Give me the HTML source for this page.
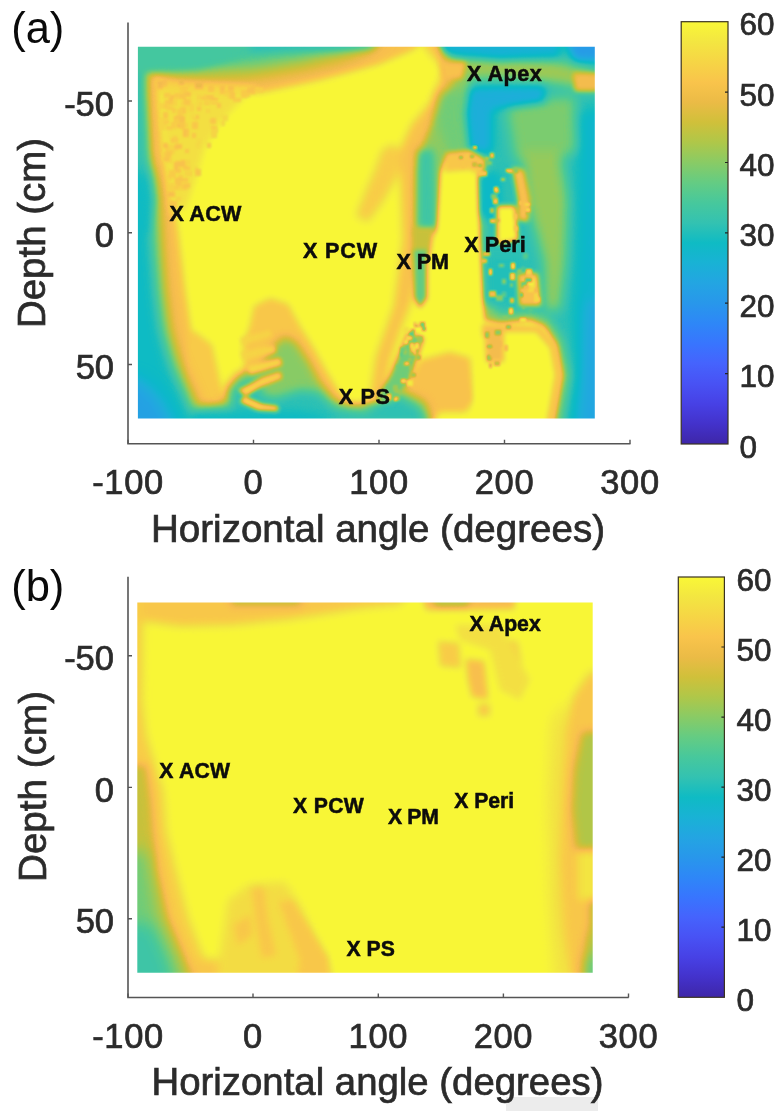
<!DOCTYPE html>
<html><head><meta charset="utf-8"><title>Figure</title>
<style>html,body{margin:0;padding:0;background:#fff}svg{display:block}text{font-family:"Liberation Sans",sans-serif}.t{stroke:#2b2b2b;stroke-width:.7px}</style>
</head><body>
<svg width="784" height="1111" viewBox="0 0 784 1111">
<defs>
<linearGradient id="cb" x1="0" y1="0" x2="0" y2="1"><stop offset="0.0000" stop-color="rgb(249,247,55)"/><stop offset="0" stop-color="rgb(249,247,55)"/><stop offset="0.0476" stop-color="rgb(243,230,65)"/><stop offset="0.0952" stop-color="rgb(246,213,69)"/><stop offset="0.1429" stop-color="rgb(249,196,75)"/><stop offset="0.1905" stop-color="rgb(235,187,70)"/><stop offset="0.2381" stop-color="rgb(208,192,58)"/><stop offset="0.2857" stop-color="rgb(175,199,73)"/><stop offset="0.3333" stop-color="rgb(137,203,101)"/><stop offset="0.3810" stop-color="rgb(100,204,131)"/><stop offset="0.4286" stop-color="rgb(71,200,156)"/><stop offset="0.4762" stop-color="rgb(51,194,177)"/><stop offset="0.5238" stop-color="rgb(15,187,196)"/><stop offset="0.5714" stop-color="rgb(25,178,213)"/><stop offset="0.6190" stop-color="rgb(35,165,226)"/><stop offset="0.6667" stop-color="rgb(40,151,235)"/><stop offset="0.7143" stop-color="rgb(46,135,247)"/><stop offset="0.7619" stop-color="rgb(56,117,254)"/><stop offset="0.8095" stop-color="rgb(69,99,253)"/><stop offset="0.8571" stop-color="rgb(72,82,244)"/><stop offset="0.9048" stop-color="rgb(71,65,229)"/><stop offset="0.9524" stop-color="rgb(67,50,203)"/><stop offset="1.0000" stop-color="rgb(62,38,168)"/></linearGradient>
<filter id="cmap" color-interpolation-filters="sRGB" filterUnits="userSpaceOnUse" x="0" y="0" width="784" height="1111">
<feComponentTransfer>
<feFuncR type="table" tableValues="0.2422 0.2504 0.2578 0.2647 0.2706 0.2751 0.2783 0.2803 0.2813 0.2810 0.2795 0.2760 0.2699 0.2602 0.2440 0.2206 0.1963 0.1834 0.1786 0.1764 0.1693 0.1562 0.1507 0.1460 0.1369 0.1282 0.1177 0.0980 0.0667 0.0485 0.0581 0.0984 0.1531 0.1986 0.2309 0.2544 0.2772 0.3068 0.3467 0.3914 0.4359 0.4844 0.5364 0.5870 0.6364 0.6847 0.7309 0.7748 0.8160 0.8541 0.8896 0.9213 0.9509 0.9730 0.9761 0.9763 0.9729 0.9654 0.9575 0.9535 0.9542 0.9588 0.9662 0.9750"/>
<feFuncG type="table" tableValues="0.1504 0.1650 0.1818 0.1978 0.2147 0.2342 0.2559 0.2782 0.3006 0.3228 0.3447 0.3667 0.3892 0.4123 0.4358 0.4603 0.4847 0.5074 0.5289 0.5499 0.5705 0.5909 0.6104 0.6295 0.6484 0.6665 0.6832 0.6984 0.7119 0.7239 0.7346 0.7442 0.7527 0.7606 0.7685 0.7765 0.7841 0.7908 0.7956 0.7987 0.8006 0.8001 0.7974 0.7929 0.7870 0.7797 0.7713 0.7624 0.7536 0.7454 0.7387 0.7350 0.7359 0.7486 0.7691 0.7905 0.8127 0.8355 0.8585 0.8814 0.9037 0.9254 0.9467 0.9680"/>
<feFuncB type="table" tableValues="0.6603 0.7076 0.7511 0.7952 0.8364 0.8710 0.8991 0.9221 0.9414 0.9579 0.9717 0.9829 0.9906 0.9952 0.9988 0.9973 0.9892 0.9798 0.9682 0.9520 0.9357 0.9213 0.9070 0.8959 0.8864 0.8739 0.8573 0.8371 0.8146 0.7912 0.7671 0.7426 0.7178 0.6931 0.6677 0.6413 0.6128 0.5819 0.5489 0.5138 0.4753 0.4359 0.3980 0.3595 0.3212 0.2871 0.2590 0.2357 0.2258 0.2312 0.2470 0.2758 0.3019 0.3047 0.2944 0.2841 0.2764 0.2707 0.2647 0.2602 0.2550 0.2459 0.2330 0.2150"/>
</feComponentTransfer>
</filter>
<filter id="b1" color-interpolation-filters="sRGB" filterUnits="userSpaceOnUse" x="0" y="0" width="784" height="1111"><feGaussianBlur stdDeviation="1"/></filter>
<filter id="b2" color-interpolation-filters="sRGB" filterUnits="userSpaceOnUse" x="0" y="0" width="784" height="1111"><feGaussianBlur stdDeviation="2"/></filter>
<filter id="b2_5" color-interpolation-filters="sRGB" filterUnits="userSpaceOnUse" x="0" y="0" width="784" height="1111"><feGaussianBlur stdDeviation="2.5"/></filter>
<filter id="b3" color-interpolation-filters="sRGB" filterUnits="userSpaceOnUse" x="0" y="0" width="784" height="1111"><feGaussianBlur stdDeviation="3"/></filter>
<filter id="b4" color-interpolation-filters="sRGB" filterUnits="userSpaceOnUse" x="0" y="0" width="784" height="1111"><feGaussianBlur stdDeviation="4"/></filter>
<filter id="b5" color-interpolation-filters="sRGB" filterUnits="userSpaceOnUse" x="0" y="0" width="784" height="1111"><feGaussianBlur stdDeviation="5"/></filter>
<filter id="b6" color-interpolation-filters="sRGB" filterUnits="userSpaceOnUse" x="0" y="0" width="784" height="1111"><feGaussianBlur stdDeviation="6"/></filter>
<filter id="b7" color-interpolation-filters="sRGB" filterUnits="userSpaceOnUse" x="0" y="0" width="784" height="1111"><feGaussianBlur stdDeviation="7"/></filter>
<filter id="b8" color-interpolation-filters="sRGB" filterUnits="userSpaceOnUse" x="0" y="0" width="784" height="1111"><feGaussianBlur stdDeviation="8"/></filter>
<filter id="b11" color-interpolation-filters="sRGB" filterUnits="userSpaceOnUse" x="0" y="0" width="784" height="1111"><feGaussianBlur stdDeviation="11"/></filter>
</defs>
<rect width="784" height="1111" fill="#fff"/>
<rect x="506" y="1097" width="92" height="14" fill="#ececec"/>
<clipPath id="clipa"><rect x="137.9" y="46.7" width="456.9" height="371.90000000000003"/></clipPath>
<g clip-path="url(#clipa)"><g filter="url(#cmap)">
<rect x="97.9" y="6.700000000000003" width="536.9" height="451.90000000000003" fill="rgb(255,255,255)"/>
<g filter="url(#b3)">
<polygon points="100,40 160,40 160,100 164,150 178,230 185,290 191,330 205,370 226,400 236,440 100,440" fill="rgb(217,217,217)"/>
<polygon points="100,20 440,20 425,40 413,50 380,64 320,80 260,93 200,92 100,90" fill="rgb(217,217,217)"/>
<polygon points="188,328 198,334 212,345 218,372 223,398 230,410 232,425 190,425 185,380" fill="rgb(223,223,223)"/>
<polygon points="254,306 270,298 288,304 300,326 314,348 326,370 338,390 349,404 349,425 235,425 236,395 245,370 243,345 250,325" fill="rgb(221,221,221)"/>
<polygon points="330,398 360,404 395,398 410,380 420,360 450,352 470,358 474,400 466,412 440,412 430,425 330,425" fill="rgb(217,217,217)"/>
</g>
<g filter="url(#b3)">
<polygon points="154,76 258,86 236,106 218,126 204,150 196,178 186,208 170,214 160,100" fill="rgb(238,238,238)"/>
</g>
<g filter="url(#b1)">
<polygon points="168,192 175,192 175,197 168,197" fill="rgb(217,217,217)"/>
<polygon points="182,185 188,185 188,190 182,190" fill="rgb(230,230,230)"/>
<polygon points="157,81 163,81 163,89 157,89" fill="rgb(217,217,217)"/>
<polygon points="174,116 182,116 182,122 174,122" fill="rgb(217,217,217)"/>
<polygon points="179,185 185,185 185,190 179,190" fill="rgb(230,230,230)"/>
<polygon points="165,100 173,100 173,105 165,105" fill="rgb(221,221,221)"/>
<polygon points="172,108 176,108 176,113 172,113" fill="rgb(225,225,225)"/>
<polygon points="207,95 214,95 214,100 207,100" fill="rgb(221,221,221)"/>
<polygon points="164,152 171,152 171,160 164,160" fill="rgb(221,221,221)"/>
<polygon points="163,80 167,80 167,87 163,87" fill="rgb(225,225,225)"/>
<polygon points="182,185 187,185 187,190 182,190" fill="rgb(225,225,225)"/>
<polygon points="171,149 175,149 175,154 171,154" fill="rgb(230,230,230)"/>
<polygon points="174,93 181,93 181,99 174,99" fill="rgb(225,225,225)"/>
<polygon points="195,83 203,83 203,89 195,89" fill="rgb(217,217,217)"/>
<polygon points="220,86 225,86 225,94 220,94" fill="rgb(221,221,221)"/>
<polygon points="175,168 181,168 181,173 175,173" fill="rgb(221,221,221)"/>
<polygon points="183,99 191,99 191,106 183,106" fill="rgb(225,225,225)"/>
<polygon points="178,175 183,175 183,180 178,180" fill="rgb(225,225,225)"/>
<polygon points="182,123 188,123 188,128 182,128" fill="rgb(230,230,230)"/>
<polygon points="168,152 172,152 172,156 168,156" fill="rgb(221,221,221)"/>
<polygon points="169,95 174,95 174,101 169,101" fill="rgb(217,217,217)"/>
<polygon points="162,152 168,152 168,160 162,160" fill="rgb(230,230,230)"/>
<polygon points="183,183 190,183 190,188 183,188" fill="rgb(221,221,221)"/>
<polygon points="164,93 171,93 171,98 164,98" fill="rgb(225,225,225)"/>
<polygon points="171,138 178,138 178,143 171,143" fill="rgb(221,221,221)"/>
<polygon points="176,121 180,121 180,128 176,128" fill="rgb(230,230,230)"/>
<polygon points="161,121 167,121 167,126 161,126" fill="rgb(230,230,230)"/>
<polygon points="176,161 184,161 184,167 176,167" fill="rgb(217,217,217)"/>
<polygon points="180,89 185,89 185,97 180,97" fill="rgb(217,217,217)"/>
<polygon points="163,155 169,155 169,160 163,160" fill="rgb(230,230,230)"/>
<polygon points="158,103 165,103 165,109 158,109" fill="rgb(230,230,230)"/>
<polygon points="180,92 186,92 186,99 180,99" fill="rgb(221,221,221)"/>
<polygon points="179,81 184,81 184,85 179,85" fill="rgb(221,221,221)"/>
<polygon points="243,92 250,92 250,97 243,97" fill="rgb(225,225,225)"/>
<polygon points="173,98 177,98 177,106 173,106" fill="rgb(230,230,230)"/>
<polygon points="165,147 173,147 173,152 165,152" fill="rgb(225,225,225)"/>
<polygon points="169,200 173,200 173,205 169,205" fill="rgb(225,225,225)"/>
<polygon points="173,136 177,136 177,143 173,143" fill="rgb(225,225,225)"/>
<polygon points="180,87 188,87 188,94 180,94" fill="rgb(230,230,230)"/>
<polygon points="160,126 165,126 165,130 160,130" fill="rgb(230,230,230)"/>
<polygon points="163,143 168,143 168,148 163,148" fill="rgb(217,217,217)"/>
<polygon points="177,120 184,120 184,128 177,128" fill="rgb(217,217,217)"/>
<polygon points="175,118 180,118 180,124 175,124" fill="rgb(225,225,225)"/>
<polygon points="180,107 186,107 186,114 180,114" fill="rgb(221,221,221)"/>
<polygon points="163,112 168,112 168,119 163,119" fill="rgb(221,221,221)"/>
<polygon points="171,122 176,122 176,129 171,129" fill="rgb(225,225,225)"/>
<polygon points="166,158 172,158 172,163 166,163" fill="rgb(230,230,230)"/>
<polygon points="183,129 189,129 189,137 183,137" fill="rgb(217,217,217)"/>
<polygon points="181,101 186,101 186,106 181,106" fill="rgb(230,230,230)"/>
<polygon points="184,92 191,92 191,97 184,97" fill="rgb(221,221,221)"/>
<polygon points="168,145 174,145 174,150 168,150" fill="rgb(230,230,230)"/>
<polygon points="167,174 172,174 172,180 167,180" fill="rgb(230,230,230)"/>
<polygon points="186,101 192,101 192,107 186,107" fill="rgb(230,230,230)"/>
<polygon points="255,87 263,87 263,92 255,92" fill="rgb(230,230,230)"/>
<polygon points="211,98 218,98 218,104 211,104" fill="rgb(217,217,217)"/>
<polygon points="164,157 169,157 169,161 164,161" fill="rgb(217,217,217)"/>
<polygon points="176,197 181,197 181,201 176,201" fill="rgb(230,230,230)"/>
<polygon points="159,118 166,118 166,126 159,126" fill="rgb(230,230,230)"/>
<polygon points="181,160 186,160 186,166 181,166" fill="rgb(217,217,217)"/>
<polygon points="174,162 178,162 178,170 174,170" fill="rgb(217,217,217)"/>
<polygon points="169,205 175,205 175,209 169,209" fill="rgb(225,225,225)"/>
<polygon points="166,106 173,106 173,110 166,110" fill="rgb(225,225,225)"/>
<polygon points="164,103 169,103 169,109 164,109" fill="rgb(225,225,225)"/>
<polygon points="177,109 183,109 183,116 177,116" fill="rgb(225,225,225)"/>
<polygon points="179,116 185,116 185,122 179,122" fill="rgb(217,217,217)"/>
<polygon points="233,98 241,98 241,102 233,102" fill="rgb(225,225,225)"/>
<polygon points="174,145 178,145 178,150 174,150" fill="rgb(225,225,225)"/>
<polygon points="208,86 214,86 214,92 208,92" fill="rgb(225,225,225)"/>
<polygon points="250,87 255,87 255,94 250,94" fill="rgb(221,221,221)"/>
<polygon points="170,201 177,201 177,209 170,209" fill="rgb(221,221,221)"/>
<polygon points="164,120 169,120 169,124 164,124" fill="rgb(225,225,225)"/>
<polygon points="180,122 185,122 185,129 180,129" fill="rgb(221,221,221)"/>
<polygon points="168,184 175,184 175,192 168,192" fill="rgb(230,230,230)"/>
<polygon points="204,95 211,95 211,101 204,101" fill="rgb(221,221,221)"/>
<polygon points="184,99 190,99 190,105 184,105" fill="rgb(221,221,221)"/>
<polygon points="197,95 201,95 201,100 197,100" fill="rgb(230,230,230)"/>
<polygon points="182,178 188,178 188,182 182,182" fill="rgb(221,221,221)"/>
<polygon points="169,201 175,201 175,206 169,206" fill="rgb(221,221,221)"/>
<polygon points="247,88 253,88 253,93 247,93" fill="rgb(221,221,221)"/>
<polygon points="169,170 176,170 176,178 169,178" fill="rgb(225,225,225)"/>
<polygon points="175,144 182,144 182,149 175,149" fill="rgb(217,217,217)"/>
<polygon points="175,178 182,178 182,184 175,184" fill="rgb(217,217,217)"/>
<polygon points="201,96 207,96 207,100 201,100" fill="rgb(225,225,225)"/>
<polygon points="183,166 190,166 190,170 183,170" fill="rgb(221,221,221)"/>
<polygon points="166,126 172,126 172,130 166,130" fill="rgb(225,225,225)"/>
<polygon points="167,183 175,183 175,189 167,189" fill="rgb(230,230,230)"/>
<polygon points="228,90 233,90 233,98 228,98" fill="rgb(225,225,225)"/>
<polygon points="230,92 235,92 235,99 230,99" fill="rgb(221,221,221)"/>
<polygon points="241,90 247,90 247,98 241,98" fill="rgb(225,225,225)"/>
<polygon points="165,152 170,152 170,159 165,159" fill="rgb(221,221,221)"/>
<polygon points="173,186 179,186 179,190 173,190" fill="rgb(225,225,225)"/>
<polygon points="224,90 230,90 230,96 224,96" fill="rgb(230,230,230)"/>
<polygon points="204,98 210,98 210,105 204,105" fill="rgb(225,225,225)"/>
<polygon points="176,180 182,180 182,186 176,186" fill="rgb(221,221,221)"/>
<polygon points="228,86 234,86 234,91 228,91" fill="rgb(221,221,221)"/>
<polygon points="187,106 194,106 194,112 187,112" fill="rgb(234,234,234)"/>
<polygon points="196,101 202,101 202,108 196,108" fill="rgb(234,234,234)"/>
<polygon points="199,101 202,101 202,106 199,106" fill="rgb(230,230,230)"/>
<polygon points="194,119 198,119 198,123 194,123" fill="rgb(234,234,234)"/>
<polygon points="222,115 228,115 228,121 222,121" fill="rgb(234,234,234)"/>
<polygon points="221,121 225,121 225,126 221,126" fill="rgb(234,234,234)"/>
<polygon points="211,118 216,118 216,124 211,124" fill="rgb(221,221,221)"/>
<polygon points="211,132 217,132 217,138 211,138" fill="rgb(230,230,230)"/>
<polygon points="195,167 198,167 198,172 195,172" fill="rgb(230,230,230)"/>
<polygon points="192,122 198,122 198,129 192,129" fill="rgb(221,221,221)"/>
<polygon points="186,131 189,131 189,137 186,137" fill="rgb(221,221,221)"/>
<polygon points="190,104 194,104 194,111 190,111" fill="rgb(230,230,230)"/>
<polygon points="193,115 199,115 199,119 193,119" fill="rgb(221,221,221)"/>
<polygon points="211,126 217,126 217,132 211,132" fill="rgb(221,221,221)"/>
<polygon points="210,119 216,119 216,123 210,123" fill="rgb(221,221,221)"/>
<polygon points="185,171 192,171 192,176 185,176" fill="rgb(230,230,230)"/>
<polygon points="211,128 218,128 218,133 211,133" fill="rgb(230,230,230)"/>
<polygon points="185,149 189,149 189,153 185,153" fill="rgb(221,221,221)"/>
<polygon points="191,114 196,114 196,118 191,118" fill="rgb(234,234,234)"/>
<polygon points="197,139 201,139 201,144 197,144" fill="rgb(234,234,234)"/>
<polygon points="192,133 196,133 196,138 192,138" fill="rgb(221,221,221)"/>
<polygon points="197,107 201,107 201,111 197,111" fill="rgb(221,221,221)"/>
<polygon points="185,160 190,160 190,165 185,165" fill="rgb(230,230,230)"/>
<polygon points="217,103 221,103 221,108 217,108" fill="rgb(221,221,221)"/>
<polygon points="211,100 218,100 218,103 211,103" fill="rgb(230,230,230)"/>
<polygon points="205,100 211,100 211,103 205,103" fill="rgb(230,230,230)"/>
<polygon points="195,169 201,169 201,176 195,176" fill="rgb(221,221,221)"/>
<polygon points="207,143 211,143 211,148 207,148" fill="rgb(221,221,221)"/>
<polygon points="196,143 200,143 200,148 196,148" fill="rgb(234,234,234)"/>
<polygon points="206,109 210,109 210,113 206,113" fill="rgb(230,230,230)"/>
</g>
<g filter="url(#b3)">
<polygon points="100,40 149,40 149,90 152,150 157,200 150,235 100,235" fill="rgb(178,178,178)"/>
</g>
<g filter="url(#b5)">
<polygon points="200,408 224,405 226,388 238,374 262,366 272,348 284,336 296,342 308,360 320,382 334,400 352,408 380,400 400,390 425,402 432,425 200,425" fill="rgb(170,170,170)"/>
</g>
<g filter="url(#b11)">
<polygon points="160,0 384,0 376,30 354,50 300,63 250,71 200,73 160,72" fill="rgb(144,144,144)"/>
</g>
<g filter="url(#b3)">
<polygon points="100,40 144,40 144,90 147,150 151,200 146,230 100,230" fill="rgb(136,136,136)"/>
<polygon points="100,20 300,20 265,48 230,61 200,69 150,73 100,73" fill="rgb(144,144,144)"/>
</g>
<g filter="url(#b5)">
<polygon points="190,411 232,408 232,392 244,380 258,380 262,395 275,398 300,390 318,392 335,408 365,412 385,398 400,396 420,408 428,425 190,425" fill="rgb(132,132,132)"/>
</g>
<g filter="url(#b4)">
<polygon points="250,40 380,40 370,49 250,51" fill="rgb(128,128,128)"/>
</g>
<g filter="url(#b8)">
<polygon points="100,170 150,170 155,200 158,250 161,290 166,330 176,365 192,401 206,440 100,440" fill="rgb(121,121,121)"/>
</g>
<g filter="url(#b8)">
<polygon points="100,440 100,375 140,380 160,400 180,440" fill="rgb(94,94,94)"/>
<polygon points="185,440 190,416 300,414 330,420 335,440" fill="rgb(115,115,115)"/>
</g>
<g filter="url(#b2)">
<polygon points="240,338 270,330 272,336 242,345" fill="rgb(230,230,230)"/>
<polygon points="240,352 274,345 276,352 244,360" fill="rgb(230,230,230)"/>
<polygon points="246,366 280,358 282,365 250,374" fill="rgb(234,234,234)"/>
<polygon points="238,390 262,378 280,372 282,378 262,386 246,396" fill="rgb(234,234,234)"/>
<polygon points="244,396 262,404 278,406 278,411 258,410 240,402" fill="rgb(238,238,238)"/>
</g>
<g filter="url(#b4)">
<polygon points="420,30 440,47 470,66 456,90 444,116 432,142 424,170 422,240 412,300 400,330 390,360 383,400 370,400 376,357 394,306 403,240 401,183 399,152 412,124 431,102 445,70 425,47" fill="rgb(217,217,217)"/>
<polygon points="382,150 392,144 402,152 398,175 384,200 368,222 356,216 366,190 374,172" fill="rgb(225,225,225)"/>
</g>
<g filter="url(#b3)">
<polygon points="428,30 440,47 462,68 449,90 436,116 424,142 417,170 416,232 436,232 439,200 441,172 446,160 470,156 482,166 479,180 478,240 481,255 484,320 500,324 530,320 545,327 556,345 561,375 553,420 550,440 630,440 630,30" fill="rgb(174,174,174)"/>
</g>
<g filter="url(#b5)">
<polygon points="432,30 444,47 458,60 470,80 466,120 470,150 486,160 484,200 482,250 486,300 500,315 530,312 548,318 562,340 570,375 562,420 560,440 630,440 630,30" fill="rgb(132,132,132)"/>
</g>
<g filter="url(#b6)">
<polygon points="505,100 575,96 580,150 545,165 515,160" fill="rgb(166,166,166)"/>
<polygon points="440,92 468,88 466,160 446,150 436,120" fill="rgb(162,162,162)"/>
<polygon points="522,150 560,150 568,200 566,260 560,310 545,310 544,262 536,232 526,200" fill="rgb(174,174,174)"/>
<polygon points="446,58 500,56 560,62 596,72 596,92 560,84 500,78 446,80" fill="rgb(178,178,178)"/>
</g>
<g filter="url(#b4)">
<polygon points="470,88 545,86 545,102 492,110 492,152 470,152 466,112" fill="rgb(106,106,106)"/>
<polygon points="478,172 500,172 503,218 490,222 478,215" fill="rgb(119,119,119)"/>
<polygon points="486,258 520,258 520,300 486,304" fill="rgb(128,128,128)"/>
<polygon points="418,150 434,150 436,228 418,228" fill="rgb(140,140,140)"/>
<polygon points="440,30 560,30 560,56 500,60 445,54" fill="rgb(110,110,110)"/>
<polygon points="560,30 630,30 630,62 575,60" fill="rgb(89,89,89)"/>
</g>
<g filter="url(#b7)">
<polygon points="580,110 630,110 630,440 568,440 578,375 574,320 578,250" fill="rgb(115,115,115)"/>
<polygon points="588,300 630,300 630,440 578,440" fill="rgb(98,98,98)"/>
</g>
<g filter="url(#b2_5)">
<polygon points="443,170 476,170 479,240 482,330 440,340 438,240" fill="rgb(255,255,255)"/>
<polygon points="446,153 470,150 486,160 482,176 470,170 444,172" fill="rgb(221,221,221)"/>
<polygon points="497,206 515,206 518,240 497,244" fill="rgb(255,255,255)"/>
<polygon points="512,167 524,170 530,200 528,222 518,220 518,200" fill="rgb(217,217,217)"/>
<polygon points="517,273 538,273 541,306 519,306" fill="rgb(217,217,217)"/>
<polygon points="527,278 535,278 535,289 527,289" fill="rgb(255,255,255)"/>
<polygon points="482,324 540,326 556,345 562,375 553,425 500,425 500,340 482,336" fill="rgb(217,217,217)"/>
<polygon points="486,332 536,332 550,348 555,375 546,425 474,425 476,366 486,362" fill="rgb(255,255,255)"/>
<polygon points="484,327 504,327 504,362 486,362" fill="rgb(212,212,212)"/>
<polygon points="412,228 434,228 430,256 412,256" fill="rgb(191,191,191)"/>
<polygon points="413,250 427,250 427,298 420,308 414,298" fill="rgb(157,157,157)"/>
<polygon points="408,332 424,338 408,385 390,404 376,398 390,375" fill="rgb(162,162,162)"/>
<polygon points="573,73 600,73 600,91 575,91" fill="rgb(212,212,212)"/>
<polygon points="440,62 466,62 462,78 444,80" fill="rgb(217,217,217)"/>
</g>
<g filter="url(#b1)">
<polygon points="407,380 413,380 413,386 407,386" fill="rgb(246,246,246)"/>
<polygon points="420,322 424,322 424,326 420,326" fill="rgb(246,246,246)"/>
<polygon points="412,350 416,350 416,355 412,355" fill="rgb(238,238,238)"/>
<polygon points="387,385 390,385 390,390 387,390" fill="rgb(162,162,162)"/>
<polygon points="422,327 426,327 426,331 422,331" fill="rgb(162,162,162)"/>
<polygon points="404,374 407,374 407,380 404,380" fill="rgb(162,162,162)"/>
<polygon points="410,343 414,343 414,349 410,349" fill="rgb(238,238,238)"/>
<polygon points="411,329 415,329 415,333 411,333" fill="rgb(178,178,178)"/>
<polygon points="396,365 399,365 399,368 396,368" fill="rgb(162,162,162)"/>
<polygon points="416,355 421,355 421,360 416,360" fill="rgb(178,178,178)"/>
<polygon points="414,322 419,322 419,327 414,327" fill="rgb(178,178,178)"/>
<polygon points="395,397 400,397 400,401 395,401" fill="rgb(178,178,178)"/>
<polygon points="393,385 398,385 398,391 393,391" fill="rgb(178,178,178)"/>
<polygon points="403,349 407,349 407,354 403,354" fill="rgb(178,178,178)"/>
<polygon points="400,351 403,351 403,357 400,357" fill="rgb(153,153,153)"/>
<polygon points="415,343 419,343 419,349 415,349" fill="rgb(246,246,246)"/>
<polygon points="415,322 419,322 419,325 415,325" fill="rgb(238,238,238)"/>
<polygon points="401,379 406,379 406,383 401,383" fill="rgb(238,238,238)"/>
<polygon points="420,322 425,322 425,327 420,327" fill="rgb(162,162,162)"/>
<polygon points="408,358 412,358 412,361 408,361" fill="rgb(178,178,178)"/>
<polygon points="403,362 407,362 407,366 403,366" fill="rgb(178,178,178)"/>
<polygon points="411,373 416,373 416,377 411,377" fill="rgb(178,178,178)"/>
<polygon points="417,336 423,336 423,342 417,342" fill="rgb(178,178,178)"/>
<polygon points="409,365 412,365 412,370 409,370" fill="rgb(178,178,178)"/>
<polygon points="410,345 413,345 413,349 410,349" fill="rgb(238,238,238)"/>
<polygon points="395,390 401,390 401,395 395,395" fill="rgb(178,178,178)"/>
<polygon points="403,327 409,327 409,333 403,333" fill="rgb(238,238,238)"/>
<polygon points="410,350 414,350 414,356 410,356" fill="rgb(246,246,246)"/>
<polygon points="409,351 414,351 414,356 409,356" fill="rgb(178,178,178)"/>
<polygon points="409,332 414,332 414,337 409,337" fill="rgb(153,153,153)"/>
<polygon points="387,394 391,394 391,400 387,400" fill="rgb(238,238,238)"/>
<polygon points="400,347 405,347 405,352 400,352" fill="rgb(162,162,162)"/>
<polygon points="412,346 416,346 416,352 412,352" fill="rgb(238,238,238)"/>
<polygon points="404,340 408,340 408,344 404,344" fill="rgb(246,246,246)"/>
<polygon points="405,362 409,362 409,365 405,365" fill="rgb(238,238,238)"/>
<polygon points="395,394 398,394 398,398 395,398" fill="rgb(246,246,246)"/>
<polygon points="394,393 399,393 399,397 394,397" fill="rgb(162,162,162)"/>
<polygon points="402,356 407,356 407,360 402,360" fill="rgb(162,162,162)"/>
<polygon points="406,336 412,336 412,340 406,340" fill="rgb(238,238,238)"/>
<polygon points="394,398 397,398 397,401 394,401" fill="rgb(246,246,246)"/>
<polygon points="528,308 533,308 533,312 528,312" fill="rgb(153,153,153)"/>
<polygon points="489,291 496,291 496,297 489,297" fill="rgb(212,212,212)"/>
<polygon points="526,269 532,269 532,275 526,275" fill="rgb(234,234,234)"/>
<polygon points="535,288 538,288 538,293 535,293" fill="rgb(212,212,212)"/>
<polygon points="520,293 523,293 523,297 520,297" fill="rgb(153,153,153)"/>
<polygon points="502,279 506,279 506,284 502,284" fill="rgb(170,170,170)"/>
<polygon points="522,306 525,306 525,309 522,309" fill="rgb(170,170,170)"/>
<polygon points="509,308 513,308 513,314 509,314" fill="rgb(246,246,246)"/>
<polygon points="502,292 506,292 506,297 502,297" fill="rgb(153,153,153)"/>
<polygon points="510,298 514,298 514,303 510,303" fill="rgb(212,212,212)"/>
<polygon points="499,264 504,264 504,267 499,267" fill="rgb(170,170,170)"/>
<polygon points="511,263 515,263 515,269 511,269" fill="rgb(246,246,246)"/>
<polygon points="534,293 538,293 538,298 534,298" fill="rgb(234,234,234)"/>
<polygon points="497,298 502,298 502,301 497,301" fill="rgb(246,246,246)"/>
<polygon points="525,278 532,278 532,282 525,282" fill="rgb(153,153,153)"/>
<polygon points="534,297 540,297 540,302 534,302" fill="rgb(234,234,234)"/>
<polygon points="528,286 533,286 533,292 528,292" fill="rgb(234,234,234)"/>
<polygon points="521,282 527,282 527,288 521,288" fill="rgb(153,153,153)"/>
<polygon points="481,259 487,259 487,263 481,263" fill="rgb(212,212,212)"/>
<polygon points="510,273 515,273 515,280 510,280" fill="rgb(234,234,234)"/>
<polygon points="517,269 522,269 522,274 517,274" fill="rgb(170,170,170)"/>
<polygon points="523,285 529,285 529,290 523,290" fill="rgb(212,212,212)"/>
<polygon points="520,318 526,318 526,322 520,322" fill="rgb(246,246,246)"/>
<polygon points="496,295 503,295 503,301 496,301" fill="rgb(170,170,170)"/>
<polygon points="483,252 490,252 490,256 483,256" fill="rgb(212,212,212)"/>
<polygon points="502,316 508,316 508,319 502,319" fill="rgb(170,170,170)"/>
<polygon points="489,269 492,269 492,275 489,275" fill="rgb(246,246,246)"/>
<polygon points="510,283 513,283 513,287 510,287" fill="rgb(170,170,170)"/>
<polygon points="521,267 525,267 525,270 521,270" fill="rgb(153,153,153)"/>
<polygon points="523,253 528,253 528,259 523,259" fill="rgb(153,153,153)"/>
<polygon points="469,155 474,155 474,158 469,158" fill="rgb(170,170,170)"/>
<polygon points="473,146 477,146 477,149 473,149" fill="rgb(238,238,238)"/>
<polygon points="478,164 482,164 482,167 478,167" fill="rgb(170,170,170)"/>
<polygon points="525,203 530,203 530,206 525,206" fill="rgb(238,238,238)"/>
<polygon points="490,153 494,153 494,158 490,158" fill="rgb(221,221,221)"/>
<polygon points="490,208 494,208 494,213 490,213" fill="rgb(191,191,191)"/>
<polygon points="478,171 483,171 483,176 478,176" fill="rgb(221,221,221)"/>
<polygon points="462,158 468,158 468,161 462,161" fill="rgb(221,221,221)"/>
<polygon points="506,169 512,169 512,172 506,172" fill="rgb(238,238,238)"/>
<polygon points="490,219 496,219 496,223 490,223" fill="rgb(221,221,221)"/>
<polygon points="493,198 498,198 498,204 493,204" fill="rgb(221,221,221)"/>
<polygon points="514,168 518,168 518,173 514,173" fill="rgb(170,170,170)"/>
<polygon points="495,189 499,189 499,193 495,193" fill="rgb(191,191,191)"/>
<polygon points="485,157 489,157 489,160 485,160" fill="rgb(191,191,191)"/>
<polygon points="514,226 518,226 518,231 514,231" fill="rgb(221,221,221)"/>
<polygon points="501,178 505,178 505,181 501,181" fill="rgb(191,191,191)"/>
<polygon points="461,163 465,163 465,168 461,168" fill="rgb(221,221,221)"/>
<polygon points="465,155 470,155 470,159 465,159" fill="rgb(221,221,221)"/>
<polygon points="526,209 530,209 530,214 526,214" fill="rgb(170,170,170)"/>
<polygon points="526,208 530,208 530,212 526,212" fill="rgb(238,238,238)"/>
<polygon points="459,156 463,156 463,159 459,159" fill="rgb(170,170,170)"/>
<polygon points="491,194 497,194 497,199 491,199" fill="rgb(170,170,170)"/>
<polygon points="519,201 522,201 522,205 519,205" fill="rgb(221,221,221)"/>
<polygon points="494,187 498,187 498,192 494,192" fill="rgb(238,238,238)"/>
<polygon points="483,171 487,171 487,176 483,176" fill="rgb(221,221,221)"/>
<polygon points="486,161 492,161 492,165 486,165" fill="rgb(170,170,170)"/>
<polygon points="508,170 513,170 513,173 508,173" fill="rgb(221,221,221)"/>
<polygon points="472,162 477,162 477,167 472,167" fill="rgb(191,191,191)"/>
<polygon points="495,219 500,219 500,222 495,222" fill="rgb(191,191,191)"/>
<polygon points="514,214 517,214 517,219 514,219" fill="rgb(221,221,221)"/>
<polygon points="489,363 492,363 492,368 489,368" fill="rgb(191,191,191)"/>
<polygon points="487,357 492,357 492,361 487,361" fill="rgb(191,191,191)"/>
<polygon points="494,341 499,341 499,345 494,345" fill="rgb(212,212,212)"/>
<polygon points="486,332 489,332 489,336 486,336" fill="rgb(212,212,212)"/>
<polygon points="494,361 500,361 500,366 494,366" fill="rgb(191,191,191)"/>
<polygon points="506,325 511,325 511,329 506,329" fill="rgb(170,170,170)"/>
<polygon points="485,332 489,332 489,338 485,338" fill="rgb(170,170,170)"/>
<polygon points="504,347 507,347 507,350 504,350" fill="rgb(191,191,191)"/>
<polygon points="495,330 501,330 501,335 495,335" fill="rgb(170,170,170)"/>
<polygon points="497,341 502,341 502,347 497,347" fill="rgb(212,212,212)"/>
<polygon points="487,355 490,355 490,360 487,360" fill="rgb(170,170,170)"/>
<polygon points="492,350 496,350 496,355 492,355" fill="rgb(212,212,212)"/>
<polygon points="487,345 492,345 492,348 487,348" fill="rgb(170,170,170)"/>
<polygon points="504,345 508,345 508,351 504,351" fill="rgb(212,212,212)"/>
</g>
</g></g>
<path d="M128 22.5V443.8H630.5" fill="none" stroke="#555" stroke-width="1.6"/>
<path d="M128 101h4M128 232.7h4M128 364.5h4M128 443.8v-4M253.5 443.8v-4M379 443.8v-4M504.5 443.8v-4M630 443.8v-4" fill="none" stroke="#555" stroke-width="1.4"/>
<text x="114" y="115.6" font-size="34.5" text-anchor="end" fill="#2b2b2b" class="t">-50</text>
<text x="114" y="247.3" font-size="34.5" text-anchor="end" fill="#2b2b2b" class="t">0</text>
<text x="114" y="379.1" font-size="34.5" text-anchor="end" fill="#2b2b2b" class="t">50</text>
<text x="128" y="494" font-size="34.5" text-anchor="middle" fill="#2b2b2b" letter-spacing="0.6" class="t">-100</text>
<text x="253.5" y="494" font-size="34.5" text-anchor="middle" fill="#2b2b2b" letter-spacing="0.6" class="t">0</text>
<text x="379" y="494" font-size="34.5" text-anchor="middle" fill="#2b2b2b" letter-spacing="0.6" class="t">100</text>
<text x="504.5" y="494" font-size="34.5" text-anchor="middle" fill="#2b2b2b" letter-spacing="0.6" class="t">200</text>
<text x="630" y="494" font-size="34.5" text-anchor="middle" fill="#2b2b2b" letter-spacing="0.6" class="t">300</text>
<text x="151" y="542.2" font-size="38.5" textLength="454" lengthAdjust="spacingAndGlyphs" fill="#2b2b2b" class="t">Horizontal angle (degrees)</text>
<text transform="translate(44.8 328) rotate(-90)" font-size="38.5" textLength="190" lengthAdjust="spacingAndGlyphs" fill="#2b2b2b" class="t">Depth (cm)</text>
<text x="11.2" y="43.4" font-size="43.5" fill="#0a0a0a">(a)</text>
<rect x="681.2" y="21.7" width="46.799999999999955" height="422.3" fill="url(#cb)" stroke="#3a3220" stroke-width="1.2"/>
<path d="M728 373.6h-3M728 303.2h-3M728 232.8h-3M728 162.5h-3M728 92.1h-3" stroke="#222" stroke-width="1.2" fill="none"/>
<text x="739.5" y="457.6" font-size="31.5" fill="#2b2b2b" class="t">0</text>
<text x="739.5" y="387.2" font-size="31.5" fill="#2b2b2b" class="t">10</text>
<text x="739.5" y="316.8" font-size="31.5" fill="#2b2b2b" class="t">20</text>
<text x="739.5" y="246.4" font-size="31.5" fill="#2b2b2b" class="t">30</text>
<text x="739.5" y="176.0" font-size="31.5" fill="#2b2b2b" class="t">40</text>
<text x="739.5" y="105.7" font-size="31.5" fill="#2b2b2b" class="t">50</text>
<text x="739.5" y="35.3" font-size="31.5" fill="#2b2b2b" class="t">60</text>
<text x="169.4" y="221.2" font-size="21.6" font-weight="bold" fill="#0c0c0c" stroke="#0c0c0c" stroke-width="0.5" textLength="71.9" lengthAdjust="spacing">X ACW</text>
<text x="303.0" y="257.8" font-size="21.6" font-weight="bold" fill="#0c0c0c" stroke="#0c0c0c" stroke-width="0.5" textLength="74.2" lengthAdjust="spacing">X PCW</text>
<text x="396.4" y="269" font-size="21.6" font-weight="bold" fill="#0c0c0c" stroke="#0c0c0c" stroke-width="0.5" textLength="52.6" lengthAdjust="spacing">X PM</text>
<text x="464.3" y="252.4" font-size="21.6" font-weight="bold" fill="#0c0c0c" stroke="#0c0c0c" stroke-width="0.5" textLength="61.5" lengthAdjust="spacing">X Peri</text>
<text x="467.1" y="80.6" font-size="21.6" font-weight="bold" fill="#0c0c0c" stroke="#0c0c0c" stroke-width="0.5" textLength="74.6" lengthAdjust="spacing">X Apex</text>
<text x="338.7" y="404.3" font-size="21.6" font-weight="bold" fill="#0c0c0c" stroke="#0c0c0c" stroke-width="0.5" textLength="51.3" lengthAdjust="spacing">X PS</text>
<clipPath id="clipb"><rect x="137.3" y="602.4" width="455.40000000000003" height="370.30000000000007"/></clipPath>
<g clip-path="url(#clipb)"><g filter="url(#cmap)">
<rect x="97.30000000000001" y="562.4" width="535.4000000000001" height="450.30000000000007" fill="rgb(255,255,255)"/>
<g filter="url(#b5)">
<polygon points="100,580 420,580 400,604 360,608 330,613 290,619 230,625 180,626 150,622 100,616" fill="rgb(221,221,221)"/>
<polygon points="100,600 143,600 142,700 146,735 155,765 163,790 166,830 176,872 188,918 206,964 215,990 100,990" fill="rgb(225,225,225)"/>
<polygon points="190,990 195,958 240,962 290,960 326,964 335,990" fill="rgb(221,221,221)"/>
<polygon points="620,672 590,672 574,695 562,730 558,780 556,856 557,900 560,933 566,969 570,990 620,990" fill="rgb(221,221,221)"/>
</g>
<g filter="url(#b7)">
<polygon points="552,720 566,700 562,780 558,860 564,940 572,990 556,990 550,900 548,800" fill="rgb(238,238,238)"/>
</g>
<g filter="url(#b5)">
<polygon points="228,900 250,884 285,882 300,905 326,960 326,990 215,990 222,940" fill="rgb(236,236,236)"/>
</g>
<g filter="url(#b3)">
<polygon points="279,902 292,900 328,958 328,990 296,990 300,960" fill="rgb(221,221,221)"/>
<polygon points="252,888 264,888 268,920 276,955 262,958 256,925" fill="rgb(221,221,221)"/>
<polygon points="234,925 250,915 252,935 238,945" fill="rgb(221,221,221)"/>
<polygon points="438,641 459,643 461,668 440,666" fill="rgb(225,225,225)"/>
<polygon points="466,659 484,661 488,699 472,697 468,680" fill="rgb(215,215,215)"/>
<polygon points="502,639 518,641 522,663 504,661" fill="rgb(230,230,230)"/>
<polygon points="478,704 490,704 490,716 478,716" fill="rgb(225,225,225)"/>
<polygon points="455,625 500,625 530,680 520,700 500,690 490,650 460,640" fill="rgb(238,238,238)"/>
<polygon points="422,595 516,595 514,609 426,610" fill="rgb(212,212,212)"/>
<polygon points="432,595 470,595 468,608 436,608" fill="rgb(187,187,187)"/>
</g>
<g filter="url(#b4)">
<polygon points="231,590 301,590 301,605 231,605" fill="rgb(183,183,183)"/>
<polygon points="100,765 146,765 151,800 154,840 157,872 168,918 187,964 198,990 100,990" fill="rgb(191,191,191)"/>
<polygon points="620,730 582,732 574,770 572,810 576,850 590,858 590,925 586,940 584,990 620,990" fill="rgb(183,183,183)"/>
<polygon points="578,850 600,850 600,900 578,900" fill="rgb(242,242,242)"/>
</g>
<g filter="url(#b8)">
<polygon points="100,850 146,850 158,918 178,964 186,990 100,990" fill="rgb(162,162,162)"/>
<polygon points="100,925 152,925 168,964 172,990 100,990" fill="rgb(140,140,140)"/>
<polygon points="588,955 620,955 620,990 586,990" fill="rgb(153,153,153)"/>
</g>
</g></g>
<path d="M128 576.7V997.5H628.7" fill="none" stroke="#555" stroke-width="1.6"/>
<path d="M128 655.8h4M128 787.4h4M128 918.7h4M128 997.5v-4M253 997.5v-4M378.3 997.5v-4M503.4 997.5v-4M628.5 997.5v-4" fill="none" stroke="#555" stroke-width="1.4"/>
<text x="114" y="670.4" font-size="34.5" text-anchor="end" fill="#2b2b2b" class="t">-50</text>
<text x="114" y="802.0" font-size="34.5" text-anchor="end" fill="#2b2b2b" class="t">0</text>
<text x="114" y="933.3" font-size="34.5" text-anchor="end" fill="#2b2b2b" class="t">50</text>
<text x="128" y="1048" font-size="34.5" text-anchor="middle" fill="#2b2b2b" letter-spacing="0.6" class="t">-100</text>
<text x="253" y="1048" font-size="34.5" text-anchor="middle" fill="#2b2b2b" letter-spacing="0.6" class="t">0</text>
<text x="378.3" y="1048" font-size="34.5" text-anchor="middle" fill="#2b2b2b" letter-spacing="0.6" class="t">100</text>
<text x="503.4" y="1048" font-size="34.5" text-anchor="middle" fill="#2b2b2b" letter-spacing="0.6" class="t">200</text>
<text x="628.5" y="1048" font-size="34.5" text-anchor="middle" fill="#2b2b2b" letter-spacing="0.6" class="t">300</text>
<text x="151.5" y="1095.3" font-size="38.5" textLength="452" lengthAdjust="spacingAndGlyphs" fill="#2b2b2b" class="t">Horizontal angle (degrees)</text>
<text transform="translate(45.5 882) rotate(-90)" font-size="38.5" textLength="191" lengthAdjust="spacingAndGlyphs" fill="#2b2b2b" class="t">Depth (cm)</text>
<text x="11.2" y="600.6" font-size="43.5" fill="#0a0a0a">(b)</text>
<rect x="678.3" y="577" width="46.10000000000002" height="420.29999999999995" fill="url(#cb)" stroke="#3a3220" stroke-width="1.2"/>
<path d="M724.4 927.2h-3M724.4 857.2h-3M724.4 787.1h-3M724.4 717.1h-3M724.4 647.0h-3" stroke="#222" stroke-width="1.2" fill="none"/>
<text x="736.5" y="1010.9" font-size="31.5" fill="#2b2b2b" class="t">0</text>
<text x="736.5" y="940.8" font-size="31.5" fill="#2b2b2b" class="t">10</text>
<text x="736.5" y="870.8" font-size="31.5" fill="#2b2b2b" class="t">20</text>
<text x="736.5" y="800.7" font-size="31.5" fill="#2b2b2b" class="t">30</text>
<text x="736.5" y="730.7" font-size="31.5" fill="#2b2b2b" class="t">40</text>
<text x="736.5" y="660.6" font-size="31.5" fill="#2b2b2b" class="t">50</text>
<text x="736.5" y="590.6" font-size="31.5" fill="#2b2b2b" class="t">60</text>
<text x="159.3" y="778" font-size="21.2" font-weight="bold" fill="#0c0c0c" stroke="#0c0c0c" stroke-width="0.5" textLength="70.6" lengthAdjust="spacing">X ACW</text>
<text x="293.0" y="812.8" font-size="21.2" font-weight="bold" fill="#0c0c0c" stroke="#0c0c0c" stroke-width="0.5" textLength="70.8" lengthAdjust="spacing">X PCW</text>
<text x="388.0" y="824.2" font-size="21.2" font-weight="bold" fill="#0c0c0c" stroke="#0c0c0c" stroke-width="0.5" textLength="50.8" lengthAdjust="spacing">X PM</text>
<text x="454.3" y="808" font-size="21.2" font-weight="bold" fill="#0c0c0c" stroke="#0c0c0c" stroke-width="0.5" textLength="59.8" lengthAdjust="spacing">X Peri</text>
<text x="469.6" y="630.7" font-size="21.2" font-weight="bold" fill="#0c0c0c" stroke="#0c0c0c" stroke-width="0.5" textLength="71.1" lengthAdjust="spacing">X Apex</text>
<text x="346.4" y="955.6" font-size="21.2" font-weight="bold" fill="#0c0c0c" stroke="#0c0c0c" stroke-width="0.5" textLength="48.6" lengthAdjust="spacing">X PS</text>
</svg>
</body></html>
